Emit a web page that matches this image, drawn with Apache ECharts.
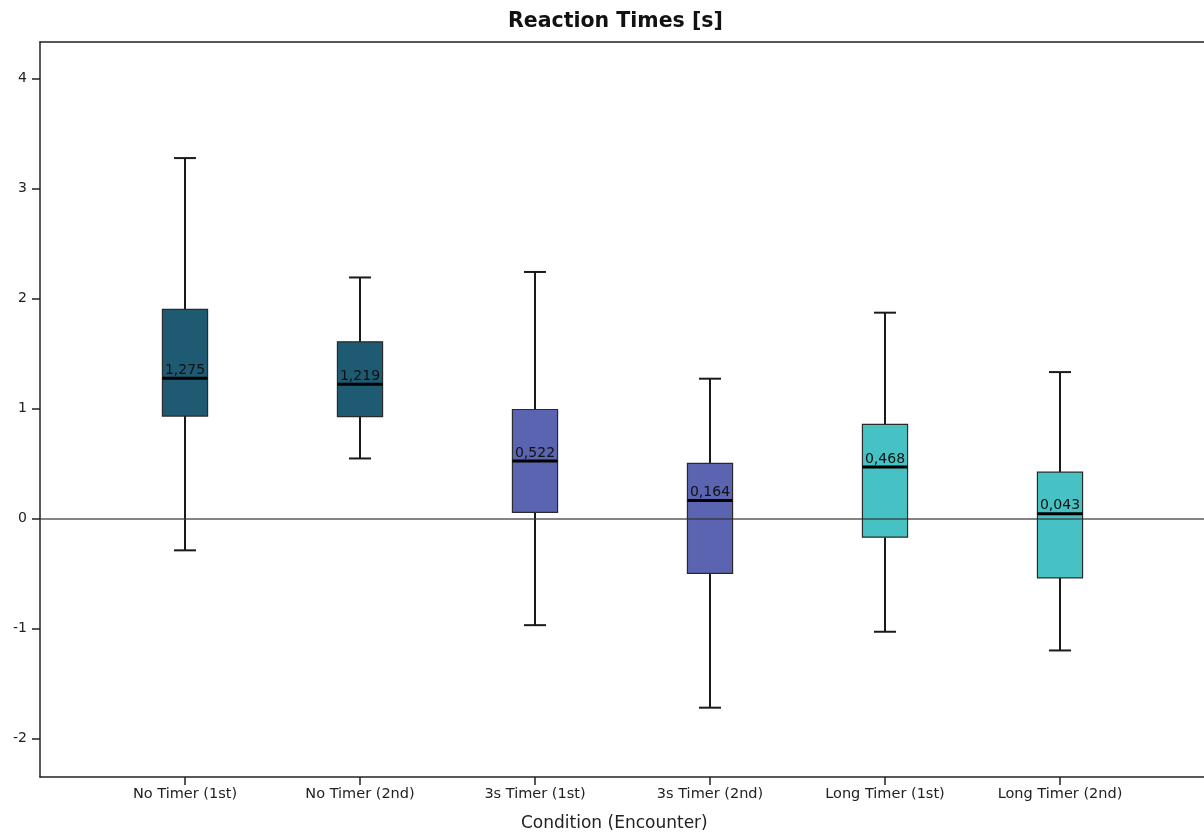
<!DOCTYPE html>
<html>
<head>
<meta charset="utf-8">
<script src="https://cdn.jsdelivr.net/npm/echarts@6/dist/echarts.min.js"></script>
<style>
  html, body { margin: 0; padding: 0; background: #fff; }
  #chart { width: 1204px; height: 832px; }
</style>
</head>
<body>
<div id="chart"></div>
<script>
// categories and box statistics
var categories = ['No Timer (1st)', 'No Timer (2nd)', '3s Timer (1st)', '3s Timer (2nd)', 'Long Timer (1st)', 'Long Timer (2nd)'];
var whiskerLow = [-0.29, 0.545, -0.97, -1.72, -1.03, -1.20];
var q1 = [0.93, 0.925, 0.055, -0.50, -0.17, -0.54];
var medians = [1.275, 1.219, 0.522, 0.164, 0.468, 0.043];
var q3 = [1.90, 1.605, 0.99, 0.50, 0.855, 0.42];
var whiskerHigh = [3.275, 2.19, 2.24, 1.27, 1.87, 1.33];
var yTicks = [-2, -1, 0, 1, 2, 3, 4];
var xTicks = [0, 1, 2, 3, 4, 5];

// 盒子颜色 (每两个条件一组)
var boxColors = ['#1E5B73', '#1E5B73', '#5A64B0', '#5A64B0', '#46C2C4', '#46C2C4'];

var FONT = '"DejaVu Sans", Verdana, sans-serif';

var boxData = categories.map(function (c, i) {
    return [i, whiskerLow[i], q1[i], medians[i], q3[i], whiskerHigh[i]];
});

var BOX_HALF = 0.129;   // in category units
var CAP_HALF = 0.063;

function renderBox(params, api) {
    var x = api.value(0);
    var pLow = api.coord([x, api.value(1)]);
    var pQ1 = api.coord([x, api.value(2)]);
    var pMed = api.coord([x, api.value(3)]);
    var pQ3 = api.coord([x, api.value(4)]);
    var pHigh = api.coord([x, api.value(5)]);
    var unit = api.size([1, 0])[0];
    var bw = unit * BOX_HALF;
    var cw = unit * CAP_HALF;
    var cx = pMed[0];
    var line = { stroke: '#1a1a1a', lineWidth: 2 };
    return {
        type: 'group',
        children: [
            { type: 'line', shape: { x1: cx, y1: pHigh[1], x2: cx, y2: pQ3[1] }, style: line },
            { type: 'line', shape: { x1: cx, y1: pQ1[1], x2: cx, y2: pLow[1] }, style: line },
            { type: 'line', shape: { x1: cx - cw, y1: pHigh[1], x2: cx + cw, y2: pHigh[1] }, style: line },
            { type: 'line', shape: { x1: cx - cw, y1: pLow[1], x2: cx + cw, y2: pLow[1] }, style: line },
            {
                type: 'rect',
                shape: { x: cx - bw, y: pQ3[1], width: bw * 2, height: pQ1[1] - pQ3[1] },
                style: { fill: boxColors[params.dataIndex], stroke: '#2a2a2a', lineWidth: 1.2 }
            },
            { type: 'line', shape: { x1: cx - bw, y1: pMed[1], x2: cx + bw, y2: pMed[1] }, style: { stroke: '#000', lineWidth: 3 } },
            {
                type: 'text',
                x: cx, y: pMed[1] - 1,
                style: {
                    text: api.value(3).toFixed(3).replace('.', ','),
                    fill: '#111', font: '14px ' + FONT,
                    align: 'center', verticalAlign: 'bottom'
                }
            }
        ]
    };
}

var myChart = echarts.init(document.getElementById('chart'));
myChart.setOption({
    animation: false,
    title: [{
        text: 'Reaction Times [s]',
        left: 503, top: 6,
        textStyle: { fontFamily: FONT, fontSize: 20.5, fontWeight: 'bold', color: '#111' }
    }, {
        text: 'Condition (Encounter)',
        left: 516, top: 810,
        textStyle: { fontFamily: FONT, fontSize: 17, fontWeight: 'normal', color: '#222' }
    }],
    grid: { left: 40, top: 42, right: 0, bottom: 55 },
    xAxis: [{
        type: 'value',
        position: 'bottom',
        min: -145 / 175,
        max: 1019 / 175,
        splitLine: { show: false },
        axisLine: { show: true, onZero: false, lineStyle: { color: '#222', width: 1.5 } },
        axisTick: { show: true, customValues: xTicks, length: 8, lineStyle: { color: '#222', width: 1.5 } },
        axisLabel: {
            customValues: xTicks,
            formatter: function (v) { return categories[Math.round(v)]; },
            fontFamily: FONT, fontSize: 14.5, color: '#222', margin: 10
        }
    }, {
        // 顶部边框
        type: 'value',
        position: 'top',
        min: -145 / 175,
        max: 1019 / 175,
        splitLine: { show: false },
        axisLine: { show: true, onZero: false, lineStyle: { color: '#222', width: 1.5 } },
        axisTick: { show: false },
        axisLabel: { show: false }
    }],
    yAxis: {
        type: 'value',
        min: -2.35,
        max: 4.33,
        splitLine: { show: false },
        axisLine: { show: true, onZero: false, lineStyle: { color: '#222', width: 1.5 } },
        axisTick: { show: true, customValues: yTicks, length: 8, lineStyle: { color: '#222', width: 1.5 } },
        axisLabel: {
            customValues: yTicks,
            fontFamily: FONT, fontSize: 14, color: '#222', margin: 13
        }
    },
    series: [{
        type: 'custom',
        xAxisIndex: 0,
        renderItem: renderBox,
        data: boxData,
        encode: { x: 0, y: [1, 2, 3, 4, 5] },
        markLine: {
            silent: true,
            symbol: 'none',
            label: { show: false },
            lineStyle: { color: 'rgba(50,50,50,0.6)', width: 2, type: 'solid' },
            data: [{ yAxis: 0 }]
        }
    }]
});
</script>
</body>
</html>
